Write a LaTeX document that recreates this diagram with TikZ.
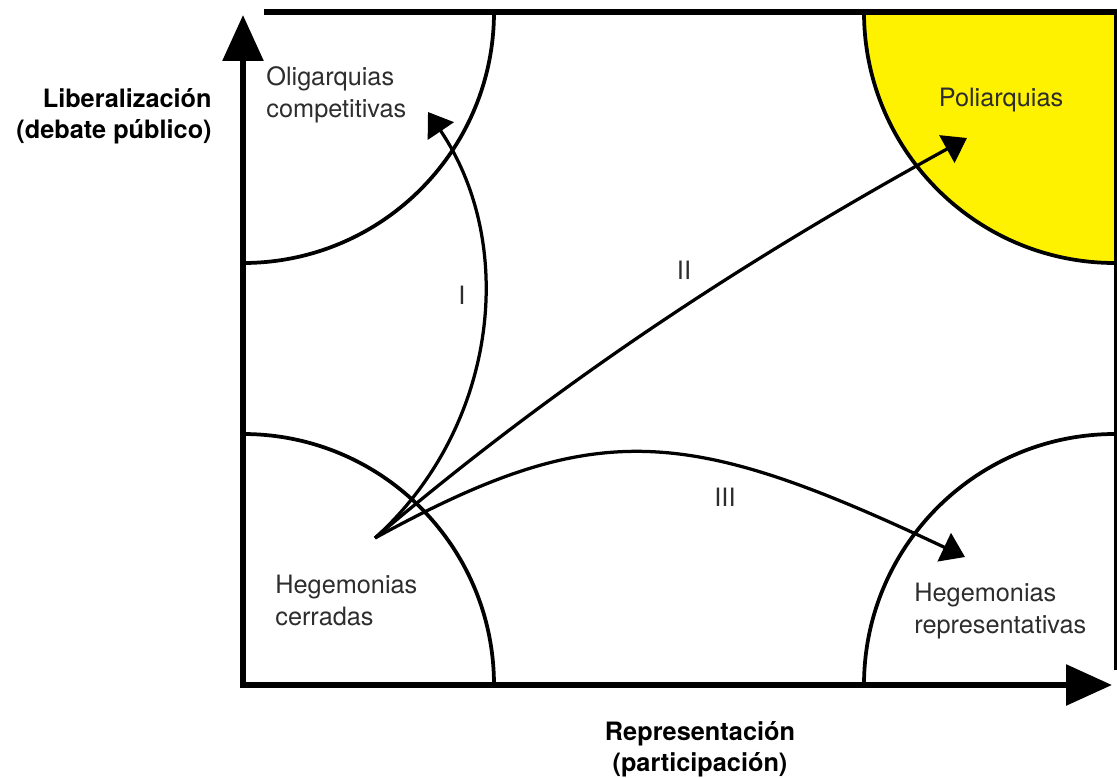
\documentclass[tikz,border=0pt]{standalone}
\usepackage{fontspec}
\setmainfont{TeX Gyre Heros}
\usetikzlibrary{arrows.meta}

\definecolor{giallo}{RGB}{255,242,0}
\definecolor{testo}{RGB}{45,45,45}

\tikzset{
  asse/.style={line width=0.12cm, line cap=rect, -{Triangle[length=0.92cm,width=0.8cm]}},
  bordo/.style={line width=0.075cm},
  freccia/.style={line width=0.065cm, -{Triangle[length=0.46cm,width=0.62cm]}},
  regione/.style={font=\fontsize{14.4}{18.2}\selectfont, text=testo, align=left, inner sep=0pt},
  titolo/.style={font=\bfseries\fontsize{14.4}{17.6}\selectfont, inner sep=0pt},
  etichetta/.style={font=\fontsize{14.4}{18}\selectfont, text=testo, inner sep=0pt}
}

\begin{document}
\begin{tikzpicture}[x=0.02cm, y=-0.02cm]
        % Dimensioni (in pixel, y verso il basso)
        \def\sx{243}   % asse verticale
        \def\dx{1115}  % bordo destro
        \def\su{12}    % bordo superiore
        \def\gi{685}   % asse orizzontale
        \def\rag{251}  % raggio dei quarti di cerchio

        \useasboundingbox (0,0) rectangle (1117,778);

        % Quarto di cerchio giallo
        \fill[giallo] (\dx,\su) -- (\dx-\rag,\su) arc[start angle=180, end angle=90, radius=\rag] -- cycle;

        % Quarti di cerchio agli angoli
        \draw[bordo] (\sx+\rag,\su) arc[start angle=0, end angle=90, radius=\rag];
        \draw[bordo] (\sx,\gi-\rag) arc[start angle=-90, end angle=0, radius=\rag];
        \draw[bordo] (\dx-\rag,\su) arc[start angle=180, end angle=90, radius=\rag];
        \draw[bordo] (\dx,\gi-\rag) arc[start angle=270, end angle=180, radius=\rag];

        % Bordi superiore e destro
        \draw[line width=0.12cm] (264,\su) -- (1117,\su);
        \draw[line width=0.06cm] (\dx,\su) -- (\dx,670);

        % Assi
        \coordinate (orig) at (\sx,\gi);
        \coordinate (ycima) at (\sx,15);
        \coordinate (xfine) at (1112,\gi);
        \draw[asse] (orig) -- (ycima);
        \draw[asse] (orig) -- (xfine);

        % Titoli degli assi
        \node[titolo, align=right, anchor=east] (liberal) at (212,116) {Liberalización\\(debate público)};
        \node[titolo, align=center] (rappr) at (700,749) {Representación\\(participación)};

        % Regioni
        \node[regione, anchor=west] (oligarchie) at (266,95) {Oligarquias\\competitivas};
        \node[regione] (poliarchie) at (1001,100) {Poliarquias};
        \node[regione, anchor=west] (egchiuse) at (275,600) {Hegemonias\\cerradas};
        \node[regione, anchor=west] (egrappr) at (914,611) {Hegemonias\\representativas};

        % Percorsi I, II, III
        \coordinate (part) at (375,538);
        \coordinate (fineI) at (428,112);
        \coordinate (fineII) at (967,138);
        \coordinate (fineIII) at (965,557);
        \draw[freccia] (part) .. controls (496,429) and (519,247) .. (fineI);
        \draw[freccia] (part) .. controls (575,368) and (767,248) .. (fineII);
        \draw[freccia] (part) .. controls (596,417) and (685,425) .. (fineIII);

        \node[etichetta] (lI) at (462,295) {I};
        \node[etichetta] (lII) at (684,270) {II};
        \node[etichetta] (lIII) at (725,497) {III};

    \end{tikzpicture}
\end{document}
